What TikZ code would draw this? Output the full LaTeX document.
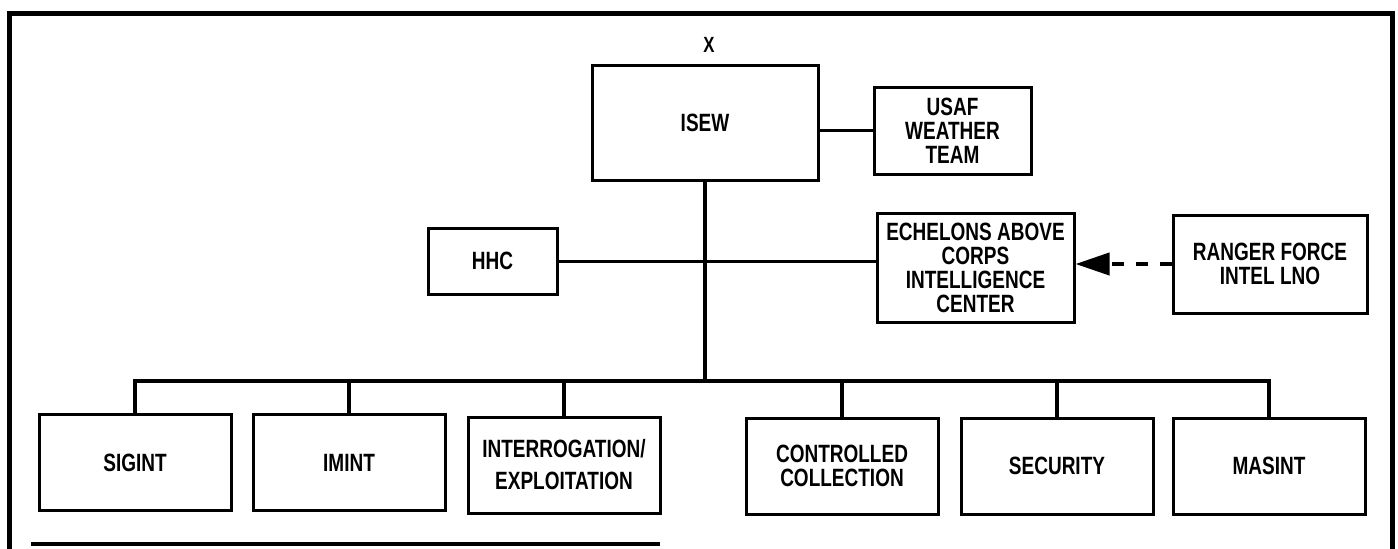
\documentclass[tikz,border=0pt]{standalone}
\usepackage{fontspec}
\setmainfont{Liberation Sans}[FakeStretch=0.76]
\usetikzlibrary{positioning,arrows.meta}

\begin{document}
\begin{tikzpicture}[x=0.5pt,y=-0.5pt,
    box/.style={rectangle,draw,line width=1.5pt,inner sep=0pt,align=center,
      font=\fontsize{12.5}{12}\selectfont\bfseries},
    unit/.style={box,minimum width=96pt,minimum height=48pt},
    line/.style={line width=1.5pt}]
  \useasboundingbox (0,0) rectangle (1398,548);
  \draw[line width=2.5pt] (9,560) -- (9,13) -- (1392,13) -- (1392,560);
  \draw[line width=2pt] (31,544) -- (660,544);
  \node[font=\fontsize{11}{11}\selectfont\bfseries] (x) at (709,45) {X};
  \node[box,minimum width=113pt,minimum height=57.5pt] (a) at (705,122.5) {ISEW};
  \node[box,minimum width=78.5pt,minimum height=43.5pt] (b) at (952.5,130.5) {USAF\\WEATHER\\TEAM};
  \node[box,minimum width=64.5pt,minimum height=33pt] (c) at (492.5,261) {HHC};
  \node[box,minimum width=98.5pt,minimum height=54.5pt] (d) at (975.5,267.5) {ECHELONS ABOVE\\CORPS\\INTELLIGENCE\\CENTER};
  \node[box,minimum width=97pt,minimum height=49pt] (r) at (1270,264) {RANGER FORCE\\INTEL LNO};
  \coordinate (k) at (705,381);
  \node[unit] (e) at (135,462.5) {SIGINT};
  \node[unit] (f) at (349,462.5) {IMINT};
  \node[unit] (g) at (564,465) {INTERROGATION/\\[4pt]EXPLOITATION};
  \node[unit] (h) at (842,466) {CONTROLLED\\COLLECTION};
  \node[unit] (i) at (1057,466) {SECURITY};
  \node[unit] (j) at (1269,466) {MASINT};
  \draw[line] (b.west) -- (b.west -| a.east);
  \draw[line] (c.east) -- (c.east -| d.west);
  \draw[line width=2pt,dash pattern=on 6pt off 6pt,-{Triangle[length=17pt,width=11pt]}] (r.west) -- (r.west -| d.east);
  \draw[line width=1.7pt] (a.south) -- (k);
  \draw[line width=1.7pt] (k) -| (e.north) (k) -| (f.north) (k) -| (g.north)
    (k) -| (h.north) (k) -| (i.north) (k) -| (j.north);
\end{tikzpicture}
\end{document}
